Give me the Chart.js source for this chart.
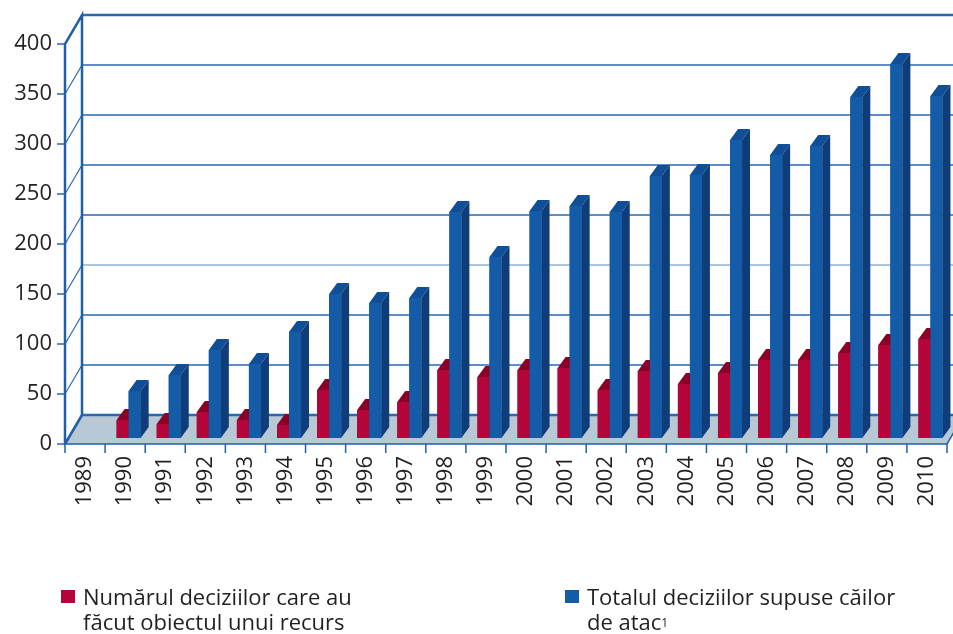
<!DOCTYPE html>
<html>
<head>
<meta charset="utf-8">
<script src="https://cdn.jsdelivr.net/npm/chart.js@4/dist/chart.umd.min.js"></script>
<style>
  body { margin: 0; background: #fff; }
  #wrap { position: relative; width: 953px; height: 634px; overflow: hidden; }
  .legend { position: absolute; font-family: "Open Sans", sans-serif; font-size: 22px; color: #231f20; line-height: 25px; }
  .legend .sw { position: absolute; left: 0; top: 6px; width: 14px; height: 13px; }
  .legend .txt { position: absolute; left: 22px; top: 0; white-space: nowrap; }
  .legend sup { font-size: 12px; vertical-align: top; position: relative; top: 1px; }
</style>
</head>
<body>
<div id="wrap">
  <canvas id="myChart" width="953" height="634"></canvas>
  <div class="legend" style="left:61px; top:584px;">
    <div class="sw" style="background:#b4053a"></div>
    <div class="txt">Numărul deciziilor care au<br>făcut obiectul unui recurs</div>
  </div>
  <div class="legend" style="left:565px; top:584px;">
    <div class="sw" style="background:#155ca8"></div>
    <div class="txt">Totalul deciziilor supuse căilor<br>de atac<sup>1</sup></div>
  </div>
</div>
<script>
const years = ['1989', '1990', '1991', '1992', '1993', '1994', '1995', '1996', '1997', '1998', '1999',
  '2000', '2001', '2002', '2003', '2004', '2005', '2006', '2007', '2008', '2009', '2010'];
const recursuri = [null, 18, 14, 26, 18, 13, 48, 28, 36, 68, 61, 68, 70, 48, 67, 54, 65, 78, 78, 85, 93, 99];
const totalAtacate = [null, 47, 63, 88, 74, 106, 144, 135, 140, 226, 181, 227, 232, 226, 262, 263, 298, 283, 292, 341, 374, 342];
const yTicks = [0, 50, 100, 150, 200, 250, 300, 350, 400];

// 3d look: walls, floor, bar tops and sides
const wallDepth = { dx: 17, dy: 29 };
const barShift = { dx: 3.5, dy: -6 };
const barDepth = { dx: 8, dy: 11 };
const shades = [
  { top: '#8a0026', side: '#7a0020' },
  { top: '#104f97', side: '#0e3d7a' }
];

const scene3d = {
  id: 'scene3d',
  beforeDatasetsDraw(chart) {
    const ctx = chart.ctx;
    const a = chart.chartArea;
    const y = chart.scales.y;
    const bx = a.left + wallDepth.dx;
    ctx.save();
    // floor
    ctx.fillStyle = '#b8c8d5';
    ctx.beginPath();
    ctx.moveTo(a.left, a.bottom);
    ctx.lineTo(a.right, a.bottom);
    ctx.lineTo(a.right + wallDepth.dx, a.bottom - wallDepth.dy);
    ctx.lineTo(bx, a.bottom - wallDepth.dy);
    ctx.closePath();
    ctx.fill();
    // back wall grid + side wall diagonals
    yTicks.forEach(v => {
      const py = y.getPixelForValue(v);
      ctx.strokeStyle = v === 150 ? '#8fb0d6' : '#2a68b3';
      ctx.lineWidth = v === 0 || v === 400 ? 2.5 : 1.5;
      ctx.beginPath();
      ctx.moveTo(bx, py - wallDepth.dy);
      ctx.lineTo(chart.width, py - wallDepth.dy);
      ctx.stroke();
      ctx.strokeStyle = '#2a68b3';
      ctx.lineWidth = 1.2;
      ctx.beginPath();
      ctx.moveTo(a.left, py);
      ctx.lineTo(bx, py - wallDepth.dy);
      ctx.stroke();
      ctx.lineWidth = 1.5;
      ctx.beginPath();
      ctx.moveTo(a.left - 8, py);
      ctx.lineTo(a.left, py);
      ctx.stroke();
    });
    ctx.strokeStyle = '#1f5fa8';
    ctx.lineWidth = 2.5;
    ctx.beginPath();
    ctx.moveTo(a.left, a.bottom + 1);
    ctx.lineTo(a.left, a.top);
    ctx.lineTo(bx, a.top - wallDepth.dy);
    ctx.lineTo(bx, a.bottom - wallDepth.dy);
    ctx.moveTo(a.left, a.bottom);
    ctx.lineTo(bx, a.bottom - wallDepth.dy);
    ctx.stroke();
    // floor front edge and right edge
    ctx.lineWidth = 1.5;
    ctx.beginPath();
    ctx.moveTo(a.left, a.bottom);
    ctx.lineTo(a.right, a.bottom);
    ctx.lineTo(a.right + wallDepth.dx * 0.4, a.bottom - wallDepth.dy * 0.4);
    ctx.stroke();
    // category ticks under the floor
    for (let i = 0; i <= years.length; i++) {
      const px = a.left + (a.right - a.left) * i / years.length;
      ctx.beginPath();
      ctx.moveTo(px, a.bottom);
      ctx.lineTo(px, a.bottom + 9);
      ctx.stroke();
    }
    ctx.restore();
    ctx.save();
    ctx.translate(barShift.dx, barShift.dy);
  },
  afterDatasetsDraw(chart) {
    const ctx = chart.ctx;
    // redraw in series order so the blue bar hides the red bar's side
    chart.data.datasets.forEach((ds, di) => {
      const meta = chart.getDatasetMeta(di);
      const s = shades[di];
      meta.data.forEach((el, i) => {
        if (ds.data[i] == null) return;
        const p = el.getProps(['x', 'y', 'base', 'width'], true);
        el.draw(ctx);
        const l = p.x - p.width / 2, r = p.x + p.width / 2;
        ctx.fillStyle = s.top;
        ctx.beginPath();
        ctx.moveTo(l, p.y);
        ctx.lineTo(r, p.y);
        ctx.lineTo(r + barDepth.dx, p.y - barDepth.dy);
        ctx.lineTo(l + barDepth.dx, p.y - barDepth.dy);
        ctx.closePath();
        ctx.fill();
        ctx.fillStyle = s.side;
        ctx.beginPath();
        ctx.moveTo(r, p.y);
        ctx.lineTo(r + barDepth.dx, p.y - barDepth.dy);
        ctx.lineTo(r + barDepth.dx, p.base - barDepth.dy);
        ctx.lineTo(r, p.base);
        ctx.closePath();
        ctx.fill();
      });
    });
    ctx.restore();
  }
};

const chart1 = document.getElementById('myChart').getContext('2d');
new Chart(chart1, {
  type: 'bar',
  data: {
    labels: years,
    datasets: [{
      label: 'Numărul deciziilor care au făcut obiectul unui recurs',
      data: recursuri,
      backgroundColor: '#b4053a',
      clip: false
    }, {
      label: 'Totalul deciziilor supuse căilor de atac',
      data: totalAtacate,
      backgroundColor: '#155ca8',
      clip: false
    }]
  },
  options: {
    responsive: false,
    animation: false,
    layout: { padding: { top: 44, right: 6, left: 0, bottom: 0 } },
    datasets: { bar: { categoryPercentage: 0.6, barPercentage: 1.0 } },
    plugins: { legend: { display: false }, tooltip: { enabled: false } },
    scales: {
      x: {
        grid: { display: false, drawTicks: false },
        border: { display: false },
        ticks: {
          autoSkip: false, maxRotation: 90, minRotation: 90, padding: 12,
          color: '#231f20', font: { family: 'Open Sans', size: 22 }
        },
        afterFit(scale) {
          scale.height = 190;
          scale.paddingLeft = 0;
          scale.paddingRight = 0;
        }
      },
      y: {
        min: 0, max: 400,
        grid: { display: false, drawTicks: false },
        border: { display: false },
        ticks: {
          stepSize: 50, padding: 13,
          color: '#231f20', font: { family: 'Open Sans', size: 22 }
        },
        afterFit(scale) { scale.width = 65; }
      }
    }
  },
  plugins: [scene3d]
});
</script>
</body>
</html>
